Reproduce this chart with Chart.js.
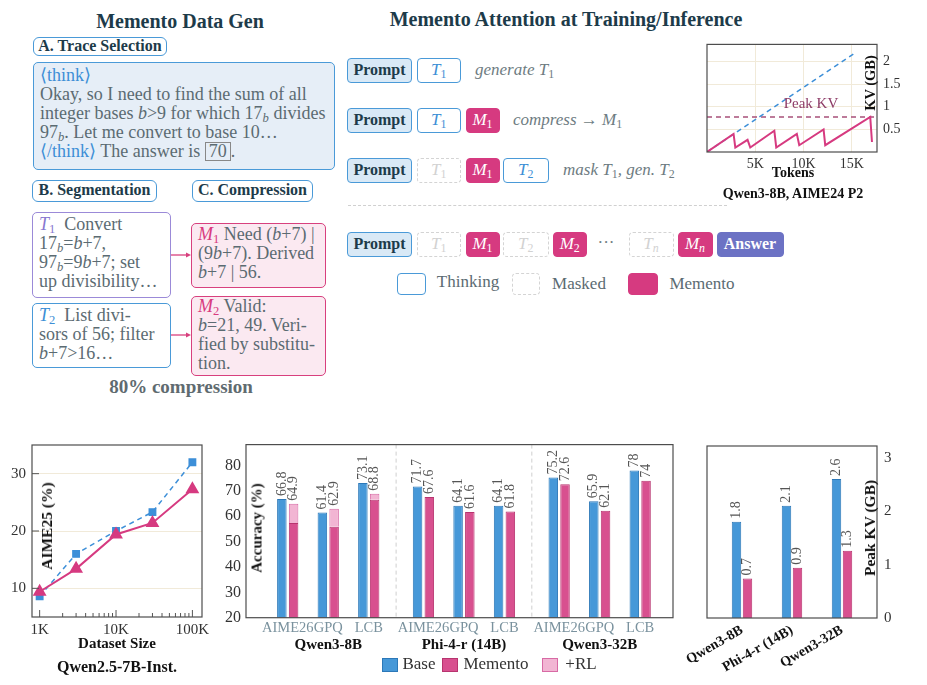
<!DOCTYPE html>
<html>
<head>
<meta charset="utf-8">
<title>Memento - overview figure</title>
<script src="https://cdn.jsdelivr.net/npm/chart.js"></script>
<style>
  body { margin: 0; background: #fff; font-family: 'Liberation Serif', serif; }
  #page { position: relative; width: 927px; height: 685px; overflow: hidden; }
  .abs { position: absolute; white-space: nowrap; }
  .c { transform: translate(-50%, -50%); }
  .v { transform: translate(-50%, -50%) rotate(-90deg); }
  .head { font-weight: bold; font-size: 20px; color: #1d3b4a; }
  .tag { position: absolute; box-sizing: border-box; border: 1.5px solid #4a9ad8; border-radius: 6px;
         background: #fff; font-weight: bold; font-size: 16px; color: #1d3b4a; text-align: center; }
  .card { position: absolute; box-sizing: border-box; border: 1.5px solid; border-radius: 5px;
          font-size: 18px; line-height: 19px; color: #5b6b72; padding-left: 6px; white-space: nowrap; }
  sub { font-size: 70%; vertical-align: -0.25em; line-height: 0; font-style: normal; }
  i { font-style: italic; }
  .blue { color: #3d8fd6; }
  .tok { position: absolute; box-sizing: border-box; height: 25px; border-radius: 4px; text-align: center;
         line-height: 22px; font-size: 17px; }
  .prompt { background: #d9e9f6; border: 1.5px solid #4a9ad8; font-weight: bold; color: #1d3b4a; font-size: 16px; }
  .think { background: #fff; border: 1.5px solid #4a9ad8; color: #3d8fd6; font-style: italic; }
  .mask { background: #fff; border: 1.5px dashed #d4d4d4; color: #d2d2d2; font-style: italic; }
  .mem { background: #d63a80; border: 1.5px solid #d63a80; color: #fff; font-style: italic; }
  .ans { background: #6c72c4; border: 1.5px solid #6c72c4; color: #fff; font-weight: bold; font-size: 16px; }
  .note { font-style: italic; font-size: 17px; color: #6e7c82; }
  .axt { font-weight: bold; font-size: 15px; color: #111; }
  .leg { font-size: 17px; color: #333; }
  canvas { position: absolute; }
</style>
</head>
<body>
<div id="page">

  <!-- left: data generation -->
  <div class="abs c head" style="left:180px; top:21px;">Memento Data Gen</div>
  <div class="tag" style="left:33px; top:37px; width:134px; height:19px; line-height:15px;">A. Trace Selection</div>
  <div class="card" style="left:33px; top:61.5px; width:302px; height:108px; border-color:#4a9ad8; background:#e6eef7; padding-top:3px;">
    <span class="blue">&#10216;think&#10217;</span><br>
    Okay, so I need to find the sum of all<br>
    integer bases <i>b</i>&gt;9 for which 17<sub><i>b</i></sub> divides<br>
    97<sub><i>b</i></sub>. Let me convert to base 10&hellip;<br>
    <span class="blue">&#10216;/think&#10217;</span> The answer is <span style="display:inline-block; border:1.2px solid #888; padding:0 3px; line-height:17px;">70</span>.
  </div>

  <div class="tag" style="left:32px; top:180px; width:125px; height:22px; line-height:18px;">B. Segmentation</div>
  <div class="tag" style="left:192px; top:180px; width:121px; height:22px; line-height:18px;">C. Compression</div>

  <div class="card" style="left:32px; top:211.5px; width:139px; height:86px; border-color:#9b8ad8; background:#fff; padding-top:2px;">
    <i style="color:#8878d0;">T<sub>1</sub></i>&nbsp; Convert<br>
    17<sub><i>b</i></sub>=<i>b</i>+7,<br>
    97<sub><i>b</i></sub>=9<i>b</i>+7; set<br>
    up divisibility&hellip;
  </div>
  <div class="card" style="left:32px; top:302.5px; width:139px; height:65px; border-color:#4a9ad8; background:#fff; padding-top:2px;">
    <i class="blue">T<sub>2</sub></i>&nbsp; List divi-<br>
    sors of 56; filter<br>
    <i>b</i>+7&gt;16&hellip;
  </div>
  <div class="card" style="left:191px; top:222.5px; width:135px; height:65px; border-color:#d8407e; background:#fbe9f1; padding-top:1px;">
    <i style="color:#d83a7e;">M<sub>1</sub></i> Need (<i>b</i>+7) |<br>
    (9<i>b</i>+7). Derived<br>
    <i>b</i>+7 | 56.
  </div>
  <div class="card" style="left:191px; top:295.5px; width:135px; height:80px; border-color:#d8407e; background:#fbe9f1; padding-top:0px;">
    <i style="color:#d83a7e;">M<sub>2</sub></i> Valid:<br>
    <i>b</i>=21, 49. Veri-<br>
    fied by substitu-<br>
    tion.
  </div>
  <svg class="abs" style="left:0; top:0;" width="340" height="400">
    <line x1="171" y1="255" x2="187" y2="255" stroke="#d8407e" stroke-width="1.3"/>
    <polygon points="191,255 186,252.5 186,257.5" fill="#d8407e"/>
    <line x1="171" y1="335" x2="187" y2="335" stroke="#d8407e" stroke-width="1.3"/>
    <polygon points="191,335 186,332.5 186,337.5" fill="#d8407e"/>
  </svg>
  <div class="abs c" style="left:181px; top:387px; font-weight:bold; font-size:19px; color:#5f6b70;">80% compression</div>

  <!-- middle: attention at training / inference -->
  <div class="abs c head" style="left:566px; top:19px;">Memento Attention at Training/Inference</div>

  <div class="tok prompt" style="left:347px; top:58px; width:65px;">Prompt</div>
  <div class="tok think" style="left:416.5px; top:58px; width:44.5px;">T<sub>1</sub></div>
  <div class="abs note" style="left:475px; top:60px;">generate <i>T</i><sub>1</sub></div>

  <div class="tok prompt" style="left:347px; top:108px; width:65px;">Prompt</div>
  <div class="tok think" style="left:416.5px; top:108px; width:44.5px;">T<sub>1</sub></div>
  <div class="tok mem" style="left:465.5px; top:108px; width:34px;">M<sub>1</sub></div>
  <div class="abs note" style="left:513px; top:110px;">compress &rarr; <i>M</i><sub>1</sub></div>

  <div class="tok prompt" style="left:347px; top:158px; width:65px;">Prompt</div>
  <div class="tok mask" style="left:416.5px; top:158px; width:44.5px;">T<sub>1</sub></div>
  <div class="tok mem" style="left:465.5px; top:158px; width:34px;">M<sub>1</sub></div>
  <div class="tok think" style="left:503px; top:158px; width:45.5px;">T<sub>2</sub></div>
  <div class="abs note" style="left:563px; top:160px;">mask <i>T</i><sub>1</sub>, gen. <i>T</i><sub>2</sub></div>

  <div class="abs" style="left:348px; top:204.5px; width:379px; border-top:1.3px dashed #d0d0d0;"></div>

  <div class="tok prompt" style="left:347px; top:232px; width:65px;">Prompt</div>
  <div class="tok mask" style="left:416.5px; top:232px; width:44.5px;">T<sub>1</sub></div>
  <div class="tok mem" style="left:465.5px; top:232px; width:34px;">M<sub>1</sub></div>
  <div class="tok mask" style="left:503px; top:232px; width:45.5px;">T<sub>2</sub></div>
  <div class="tok mem" style="left:552.5px; top:232px; width:34.5px;">M<sub>2</sub></div>
  <div class="abs c" style="left:606px; top:243px; font-size:17px; color:#6e7c82;">&middot;&middot;&middot;</div>
  <div class="tok mask" style="left:628.5px; top:232px; width:45px;">T<sub><i>n</i></sub></div>
  <div class="tok mem" style="left:677.5px; top:232px; width:35px;">M<sub><i>n</i></sub></div>
  <div class="tok ans" style="left:716.5px; top:232px; width:67px;">Answer</div>

  <div class="tok think" style="left:396.5px; top:272.5px; width:29.5px; height:22px;"></div>
  <div class="abs c leg" style="left:468px; top:282px; color:#5b6b72;">Thinking</div>
  <div class="tok mask" style="left:511.5px; top:272.5px; width:28.5px; height:22px;"></div>
  <div class="abs c leg" style="left:579px; top:283.5px; color:#5b6b72;">Masked</div>
  <div class="tok mem" style="left:628px; top:272.5px; width:30px; height:22px;"></div>
  <div class="abs c leg" style="left:702px; top:283.5px; color:#5b6b72;">Memento</div>

  <!-- charts -->
  <canvas id="kvTrace" width="237" height="180" style="left:690px; top:30px; width:237px; height:180px;"></canvas>
  <div class="abs c" style="left:811px; top:103px; font-size:15px; color:#8e3d68;">Peak KV</div>
  <div class="abs v" style="left:870px; top:83px; font-weight:bold; font-size:14.5px; color:#111;">KV (GB)</div>
  <div class="abs c" style="left:793px; top:173px; font-weight:bold; font-size:14px; color:#111;">Tokens</div>
  <div class="abs c" style="left:793px; top:194px; font-weight:bold; font-size:14px; color:#111;">Qwen3-8B, AIME24 P2</div>

  <canvas id="scaling" width="230" height="215" style="left:0px; top:430px; width:230px; height:215px;"></canvas>
  <div class="abs v axt" style="left:47px; top:526px; font-size:15.5px;">AIME25 (%)</div>
  <div class="abs c axt" style="left:117px; top:643px;">Dataset Size</div>
  <div class="abs c axt" style="left:117px; top:667px; font-size:16px;">Qwen2.5-7B-Inst.</div>

  <canvas id="accuracy" width="470" height="225" style="left:220px; top:430px; width:470px; height:225px;"></canvas>
  <div class="abs v axt" style="left:257px; top:528px;">Accuracy (%)</div>
  <div class="abs" style="left:382px; top:658px; width:14px; height:12px; background:#4698d8; border:1px solid #2c78b8;"></div>
  <div class="abs c leg" style="left:419px; top:664px;">Base</div>
  <div class="abs" style="left:442px; top:658px; width:14px; height:12px; background:#d8508f; border:1px solid #b8346f;"></div>
  <div class="abs c leg" style="left:496px; top:664px;">Memento</div>
  <div class="abs" style="left:542px; top:658px; width:14px; height:12px; background:#f2b5d3; border:1px solid #d86aa5;"></div>
  <div class="abs c leg" style="left:581px; top:664px;">+RL</div>

  <canvas id="peakKV" width="257" height="255" style="left:670px; top:430px; width:257px; height:255px;"></canvas>
  <div class="abs v axt" style="left:870px; top:528px; font-size:15.5px;">Peak KV (GB)</div>
</div>

<script>
  // ---- KV cache trace, Qwen3-8B on AIME24 P2 ----
  const fullTokens = [0, 15400];
  const fullKV = [0, 2.2];
  const mementoTokens = [0, 2750, 2930, 4200, 4480, 6970, 7170, 9300, 9550, 12070, 12240, 16900, 17080];
  const mementoKV = [0, 0.40, 0.10, 0.27, 0.10, 0.47, 0.10, 0.40, 0.15, 0.50, 0.15, 0.775, 0.22];
  const peakKV = 0.775;
  const tokenTicks = [5000, 10000, 15000];
  const kvTicks = [0.5, 1, 1.5, 2];

  // ---- data scaling, Qwen2.5-7B-Inst. ----
  const datasetSizes = [1000, 3000, 10000, 30000, 100000];
  const baseAime25 = [8.6, 16.0, 20.0, 23.3, 32.0];
  const mementoAime25 = [9.4, 13.4, 19.4, 21.4, 27.3];
  const sizeTicks = [1000, 10000, 100000];
  const minorSizes = [2000, 3000, 4000, 5000, 6000, 7000, 8000, 9000,
                      20000, 30000, 40000, 50000, 60000, 70000, 80000, 90000];
  const aimeTicks = [10, 20, 30];

  // ---- accuracy per model / benchmark ----
  const models = ['Qwen3-8B', 'Phi-4-r (14B)', 'Qwen3-32B'];
  const benchmarks = ['AIME26', 'GPQ', 'LCB'];
  const benchPos = [0, 1, 2, 3.35, 4.35, 5.35, 6.7, 7.7, 8.7];
  const groupBreaks = [2.675, 6.025];
  const baseAcc = [66.8, 61.4, 73.1, 71.7, 64.1, 64.1, 75.2, 65.9, 78];
  const mementoAcc = [57.3, 55.8, 66.5, 67.6, 61.6, 61.8, 72.6, 62.1, 74];
  const rlGain = [7.6, 7.1, 2.3, null, null, null, null, null, null];
  const accTicks = [20, 30, 40, 50, 60, 70, 80];

  // ---- peak KV per model ----
  const modelPos = [0, 1, 2];
  const peakBase = [1.8, 2.1, 2.6];
  const peakMemento = [0.74, 0.94, 1.26];
  const peakTicks = [0, 1, 2, 3];

  const BLUE = '#4698d8', BLUE_EDGE = '#2c78b8';
  const PINK = '#d8508f', PINK_EDGE = '#b8346f';
  const LINE_BLUE = '#3d8fd8', LINE_PINK = '#d63a80';
  const GRID = '#f1ead9';

  Chart.defaults.font.family = "'Liberation Serif', serif";
  Chart.defaults.color = '#333';
  Chart.defaults.animation = false;
  Chart.defaults.responsive = false;
  Chart.defaults.events = [];
  Chart.defaults.plugins.legend.display = false;
  Chart.defaults.plugins.tooltip.enabled = false;

  const pts = (xs, ys) => xs.map((x, i) => ({ x: x, y: ys[i] }));
  const fmt = v => String(+v.toFixed(1));
  const fixTicks = list => scale => { scale.ticks = list.map(v => ({ value: v })); };

  const framePlugin = {
    id: 'frame',
    afterDraw(chart) {
      const { ctx, chartArea: a } = chart;
      ctx.save();
      ctx.strokeStyle = '#4d4d4d';
      ctx.lineWidth = 1.2;
      ctx.strokeRect(a.left, a.top, a.right - a.left, a.bottom - a.top);
      ctx.restore();
    }
  };

  function barValueLabels(getItems) {
    return {
      id: 'barValues',
      afterDatasetsDraw(chart) {
        const ctx = chart.ctx;
        ctx.save();
        ctx.font = "14px 'Liberation Serif'";
        ctx.fillStyle = '#555';
        ctx.textAlign = 'left';
        ctx.textBaseline = 'middle';
        getItems(chart).forEach(it => {
          ctx.save();
          ctx.translate(it.x, it.y - 3);
          ctx.rotate(-Math.PI / 2);
          ctx.fillText(it.text, 0, 0);
          ctx.restore();
        });
        ctx.restore();
      }
    };
  }

  // KV trace
  new Chart(document.getElementById('kvTrace'), {
    type: 'line',
    data: {
      datasets: [
        { data: pts(mementoTokens, mementoKV), borderColor: LINE_PINK, borderWidth: 2, pointRadius: 0, order: 0 },
        { data: pts(fullTokens, fullKV), borderColor: LINE_BLUE, borderWidth: 1.5, borderDash: [5, 4], pointRadius: 0, order: 1 },
        { data: pts([0, 17600], [peakKV, peakKV]), borderColor: '#a8507a', borderWidth: 1.5, borderDash: [5, 4], pointRadius: 0, order: 2 }
      ]
    },
    options: {
      layout: { padding: { left: 17, top: 12, right: 0, bottom: 0 } },
      scales: {
        x: {
          type: 'linear', min: 0, max: 17600,
          afterBuildTicks: fixTicks(tokenTicks),
          afterFit: s => { s.height = 58; },
          ticks: { callback: v => (v / 1000) + 'K', font: { size: 14 }, padding: 4, maxRotation: 0 },
          grid: { color: GRID, drawTicks: false },
          border: { display: false }
        },
        y: {
          position: 'right', min: 0, max: 2.38,
          afterBuildTicks: fixTicks(kvTicks),
          afterFit: s => { s.width = 50; },
          ticks: { callback: v => fmt(v), font: { size: 14 }, padding: 6 },
          grid: { color: GRID, drawTicks: false },
          border: { display: false }
        }
      }
    },
    plugins: [framePlugin]
  });

  // data scaling
  const logTickMarks = {
    id: 'logTickMarks',
    afterDatasetsDraw(chart) {
      const { ctx, chartArea: a, scales } = chart;
      ctx.save();
      ctx.strokeStyle = '#555';
      ctx.lineWidth = 1;
      ctx.beginPath();
      minorSizes.forEach(v => {
        const px = scales.x.getPixelForValue(v);
        ctx.moveTo(px, a.bottom); ctx.lineTo(px, a.bottom - 4);
      });
      sizeTicks.forEach(v => {
        const px = scales.x.getPixelForValue(v);
        ctx.moveTo(px, a.bottom); ctx.lineTo(px, a.bottom - 7);
      });
      aimeTicks.forEach(v => {
        const py = scales.y.getPixelForValue(v);
        ctx.moveTo(a.left, py); ctx.lineTo(a.left + 7, py);
      });
      ctx.stroke();
      ctx.restore();
    }
  };

  new Chart(document.getElementById('scaling'), {
    type: 'line',
    data: {
      datasets: [
        { label: 'Memento', data: pts(datasetSizes, mementoAime25), borderColor: LINE_PINK, borderWidth: 2,
          pointStyle: 'triangle', pointRadius: 6, pointBackgroundColor: LINE_PINK, pointBorderColor: LINE_PINK, order: 0 },
        { label: 'Base', data: pts(datasetSizes, baseAime25), borderColor: LINE_BLUE, borderWidth: 1.5, borderDash: [5, 4],
          pointStyle: 'rect', pointRadius: 4.5, pointBackgroundColor: LINE_BLUE, pointBorderColor: LINE_BLUE, order: 1 }
      ]
    },
    options: {
      layout: { padding: { left: 0, top: 7, right: 28, bottom: 0 } },
      scales: {
        x: {
          type: 'logarithmic', min: 794, max: 133600,
          afterBuildTicks: fixTicks(sizeTicks),
          afterFit: s => { s.height = 28; },
          ticks: { callback: v => (v / 1000) + 'K', font: { size: 15 }, padding: 4, maxRotation: 0, autoSkip: false },
          grid: { display: false, drawTicks: false },
          border: { display: false }
        },
        y: {
          min: 5, max: 35,
          afterBuildTicks: fixTicks(aimeTicks),
          afterFit: s => { s.width = 32; },
          ticks: { font: { size: 15 }, padding: 6 },
          grid: { color: GRID, drawTicks: false },
          border: { display: false }
        }
      }
    },
    plugins: [logTickMarks, framePlugin]
  });

  // accuracy bars
  const accDecor = {
    id: 'accDecor',
    beforeDatasetsDraw(chart) {
      const { ctx, chartArea: a, scales } = chart;
      ctx.save();
      ctx.strokeStyle = '#cfcfcf';
      ctx.lineWidth = 1;
      ctx.setLineDash([4, 3]);
      groupBreaks.forEach(v => {
        const px = scales.x.getPixelForValue(v);
        ctx.beginPath(); ctx.moveTo(px, a.top); ctx.lineTo(px, a.bottom); ctx.stroke();
      });
      ctx.restore();
    },
    afterDraw(chart) {
      const { ctx, chartArea: a, scales } = chart;
      ctx.save();
      ctx.font = "bold 15px 'Liberation Serif'";
      ctx.fillStyle = '#111';
      ctx.textAlign = 'center';
      ctx.textBaseline = 'middle';
      models.forEach((m, g) => {
        ctx.fillText(m, scales.x.getPixelForValue(benchPos[g * 3 + 1]), a.bottom + 27);
      });
      ctx.restore();
    }
  };

  new Chart(document.getElementById('accuracy'), {
    type: 'bar',
    data: {
      datasets: [
        { label: 'Base', stack: 'base', data: pts(benchPos, baseAcc),
          backgroundColor: BLUE, borderColor: BLUE_EDGE, borderWidth: 1 },
        { label: 'Memento', stack: 'mem', data: pts(benchPos, mementoAcc),
          backgroundColor: PINK, borderColor: PINK_EDGE, borderWidth: 1 },
        { label: '+RL', stack: 'mem', data: pts(benchPos, rlGain),
          backgroundColor: '#f2b5d3', borderColor: '#d86aa5', borderWidth: 1 }
      ]
    },
    options: {
      categoryPercentage: 0.58,
      barPercentage: 0.81,
      layout: { padding: { left: 0, top: 7, right: 17, bottom: 0 } },
      scales: {
        x: {
          type: 'linear', min: -1.03, max: 9.51, stacked: true, offset: false,
          afterBuildTicks: fixTicks(benchPos),
          afterFit: s => { s.height = 37.3; },
          ticks: { callback: (v, i) => benchmarks[i % 3], color: '#7a929e', font: { size: 14.5 },
                   padding: 2, maxRotation: 0, autoSkip: false },
          grid: { display: false, drawTicks: false, offset: false },
          border: { display: false }
        },
        y: {
          min: 20, max: 88.2, stacked: true,
          afterBuildTicks: fixTicks(accTicks),
          afterFit: s => { s.width = 26; },
          ticks: { font: { size: 16 }, padding: 5 },
          grid: { display: false, drawTicks: false },
          border: { display: false }
        }
      }
    },
    plugins: [accDecor, framePlugin, barValueLabels(chart => {
      const base = chart.getDatasetMeta(0).data;
      const mem = chart.getDatasetMeta(1).data;
      const rl = chart.getDatasetMeta(2).data;
      const items = [];
      benchPos.forEach((p, i) => {
        items.push({ x: base[i].x, y: base[i].y, text: fmt(baseAcc[i]) });
        const top = rlGain[i] != null ? rl[i].y : mem[i].y;
        items.push({ x: mem[i].x, y: top, text: fmt(mementoAcc[i] + (rlGain[i] || 0)) });
      });
      return items;
    })]
  });

  // peak KV bars
  new Chart(document.getElementById('peakKV'), {
    type: 'bar',
    data: {
      datasets: [
        { label: 'Base', data: pts(modelPos, peakBase), backgroundColor: BLUE, borderColor: BLUE_EDGE, borderWidth: 1 },
        { label: 'Memento', data: pts(modelPos, peakMemento), backgroundColor: PINK, borderColor: PINK_EDGE, borderWidth: 1 }
      ]
    },
    options: {
      categoryPercentage: 0.44,
      barPercentage: 0.86,
      layout: { padding: { left: 37, top: 7, right: 0, bottom: 0 } },
      scales: {
        x: {
          type: 'linear', min: -0.7, max: 2.7, offset: false,
          afterBuildTicks: fixTicks(modelPos),
          afterFit: s => { s.height = 67; },
          ticks: { callback: (v, i) => models[i], font: { size: 14, weight: 'bold' }, color: '#111',
                   minRotation: 30, maxRotation: 30, autoSkip: false, padding: 4 },
          grid: { display: false, drawTicks: false, offset: false },
          border: { display: false }
        },
        y: {
          position: 'right', min: 0, max: 3.22,
          afterBuildTicks: fixTicks(peakTicks),
          afterFit: s => { s.width = 50; },
          ticks: { font: { size: 15 }, padding: 7 },
          grid: { display: false, drawTicks: false },
          border: { display: false }
        }
      }
    },
    plugins: [framePlugin, barValueLabels(chart => {
      const items = [];
      [peakBase, peakMemento].forEach((vals, d) => {
        const els = chart.getDatasetMeta(d).data;
        vals.forEach((v, i) => items.push({ x: els[i].x, y: els[i].y, text: fmt(v) }));
      });
      return items;
    })]
  });
</script>
</body>
</html>
